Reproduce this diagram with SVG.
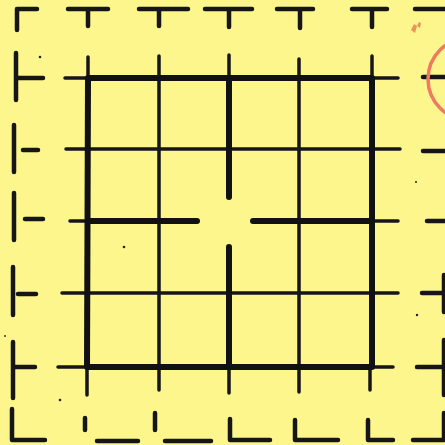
<svg xmlns="http://www.w3.org/2000/svg" width="445" height="445" viewBox="0 0 445 445">
<style>
.b{fill:none;stroke:#161616;stroke-width:4.5;stroke-linecap:round;stroke-linejoin:round}
.t{fill:none;stroke:#161616;stroke-width:3.5;stroke-linecap:round}
.k{fill:none;stroke:#111;stroke-width:6;stroke-linecap:round;stroke-linejoin:round}
</style>
<rect width="445" height="445" fill="#fcf68c"/>
<g id="border">
<path class="b" d="M17,30V9H37 M68,9H108 M88,9V26 M139,9H188 M159,9V26 M205,9H252 M229,9V27 M277,9H313 M300,9V28 M352,9H387 M372,9V27 M415,9H445"/>
<path class="b" d="M16,53V100 M18,78H43 M14,125V172 M23,150H38 M14,193V240 M25,219H43 M13,267V315 M18,294H36 M13,342V398 M14,367H35 M12,409V440H45"/>
<path class="b" d="M85,418V430 M97,441H138 M155,413V430 M165,441H211 M230,419V440H270 M295,420V440H338 M368,420V440H393 M413,440H444V413"/>
<path class="b" d="M423,77H445 M423,151H445 M427,221H445 M422,293H444 M444,275V312 M417,367H444 M444,340V395"/>
</g>
<g id="grid">
<path class="t" d="M88,57V78 M87,367V395 M159,56V390 M229,55V78 M229,367V393 M299,59V392 M372,56V78 M370,367V390"/>
<path class="t" d="M65,78H88 M372,78H398 M66,149H400 M70,221H88 M371,221H398 M62,293H398 M58,367H87 M370,367H393"/>
</g>
<g id="walls">
<path class="k" d="M88,78H372V367H87Z"/>
<path class="k" d="M229,78V197 M229,247V367 M88,221H197 M253,221H371"/>
</g>
<g id="marks">
<circle cx="469" cy="79" r="41" fill="none" stroke="#ee7a62" stroke-width="3.5"/>
<path d="M411,30l3,-6 3,2 -2,7z M417,26l2,-4 2,1 -1,5z" fill="#e9955a"/>
<circle cx="40" cy="57" r="1.3" fill="#222"/>
<circle cx="124" cy="247" r="1.3" fill="#222"/>
<circle cx="60" cy="400" r="1.3" fill="#222"/>
<circle cx="417" cy="315" r="1.2" fill="#222"/>
<circle cx="416" cy="182" r="1" fill="#222"/>
<circle cx="5" cy="336" r="1" fill="#333"/>
</g>
</svg>
